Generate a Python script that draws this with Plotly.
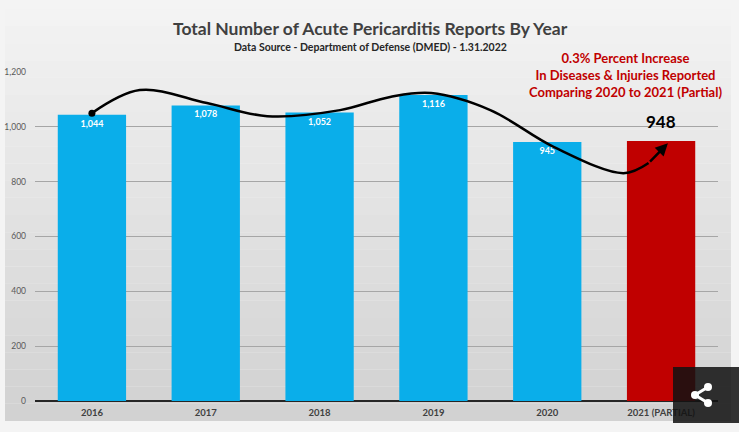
import plotly.graph_objects as go

years = ['2016', '2017', '2018', '2019', '2020', '2021 (PARTIAL)']
reports = [1044, 1078, 1052, 1116, 945, 948]
bar_colors = ['#0aaeea'] * 5 + ['#c00000']
bar_labels = ['1,044', '1,078', '1,052', '1,116', '945', '']

# hand drawn trend curve over the bars (x in bar index units)
curve_x = [0.0, 0.42, 1.01, 1.54, 2.18, 2.62, 2.98, 3.50, 4.06, 4.67, 4.89]
curve_y = [1050, 1134, 1087, 1039, 1061, 1109, 1123, 1061, 926, 831, 868]
arrow_tip = (5.06, 940)

W, H = 739, 432
L, R, T, B = 35, 21, 72, 31


def px(x):
    return (x - L) / (W - L - R)


def py(y):
    return (H - B - y) / (H - T - B)


fig = go.Figure()

fig.add_trace(go.Bar(
    x=list(range(len(years))), y=reports,
    marker=dict(color=bar_colors, line=dict(width=0)),
    width=0.6,
    text=bar_labels, textposition='inside', insidetextanchor='end',
    textfont=dict(family='Lato', size=9, color='white', weight='bold'),
    hoverinfo='skip',
))

fig.add_trace(go.Scatter(
    x=curve_x, y=curve_y, mode='lines', line_shape='spline',
    line=dict(color='black', width=2.5), hoverinfo='skip',
))
fig.add_trace(go.Scatter(
    x=curve_x[:1], y=curve_y[:1], mode='markers',
    marker=dict(color='black', size=7), hoverinfo='skip',
))

fig.add_annotation(
    x=arrow_tip[0], y=arrow_tip[1], ax=curve_x[-1], ay=curve_y[-1],
    xref='x', yref='y', axref='x', ayref='y', text='',
    showarrow=True, arrowhead=2, arrowsize=1, arrowwidth=2.5, arrowcolor='black',
)

fig.add_annotation(
    x=5, y=reports[5], text='<b>948</b>', showarrow=False, yshift=20,
    font=dict(family='Lato', size=17, color='black'),
)


def label(x, y, text, font):
    fig.add_annotation(x=px(x), y=py(y), xref='paper', yref='paper', showarrow=False,
                       xanchor='center', yanchor='middle', align='center',
                       text=text, font=font)


label(625, 75, '<b>0.3% Percent Increase<br>In Diseases &amp; Injuries Reported<br>Comparing 2020 to 2021 (Partial)</b>',
      dict(family='Lato', size=13, color='#c00000'))
label(370, 28, '<b>Total Number of Acute Pericarditis Reports By Year</b>',
      dict(family='Lato', size=17.5, color='#404040'))
label(370, 47, '<b>Data Source - Department of Defense (DMED) - 1.31.2022</b>',
      dict(family='Lato', size=10.5, color='#262626'))

# grey gradient panel behind the chart
shapes = []
n = 24
top, bottom = 9, 421
for i in range(n):
    t = i / (n - 1)
    c = int(243 - t * (243 - 210))
    y0 = top + (bottom - top) * i / n
    y1 = top + (bottom - top) * (i + 1) / n
    shapes.append(dict(type='rect', xref='paper', yref='paper', layer='below',
                       x0=px(5), x1=px(731), y0=py(y1), y1=py(y0),
                       fillcolor=f'rgb({c},{c},{c})', line=dict(width=0)))

# share button overlay
shapes.append(dict(type='rect', xref='paper', yref='paper', layer='above',
                   x0=px(673), x1=px(739), y0=py(423), y1=py(367),
                   fillcolor='rgba(18,18,18,0.86)', line=dict(width=0)))
for (x0, y0), (x1, y1) in [((695, 395), (708, 387)), ((695, 395), (708, 403))]:
    shapes.append(dict(type='line', xref='paper', yref='paper', layer='above',
                       x0=px(x0), x1=px(x1), y0=py(y0), y1=py(y1),
                       line=dict(color='white', width=3)))
for cx, cy in [(708, 387), (695, 395), (708, 403)]:
    shapes.append(dict(type='circle', xref='paper', yref='paper', layer='above',
                       x0=px(cx - 4), x1=px(cx + 4), y0=py(cy + 4), y1=py(cy - 4),
                       fillcolor='white', line=dict(width=0)))

fig.update_layout(
    width=W, height=H,
    margin=dict(l=L, r=R, t=T, b=B),
    paper_bgcolor='#f4f4f4', plot_bgcolor='rgba(0,0,0,0)',
    showlegend=False, shapes=shapes,
    xaxis=dict(
        range=[-0.5, 5.5], tickvals=list(range(len(years))), ticktext=years,
        tickfont=dict(family='Lato', size=9.5, color='#404040', weight='bold'),
        showgrid=False, zeroline=False, ticklabelstandoff=4, automargin=False,
    ),
    yaxis=dict(
        range=[0, 1200], dtick=200, tickformat=',',
        tickfont=dict(family='Lato', size=8.5, color='#595959'),
        gridcolor='#a6a6a6', gridwidth=1,
        zeroline=True, zerolinecolor='#262626', zerolinewidth=1.5,
        ticklabelstandoff=8, automargin=False,
    ),
)

# drop the browser's default page margin so the figure sits at the window corner
fig.write_html('out.html', config={'displayModeBar': False},
               post_script="document.body.style.margin='0';"
                           "document.body.style.overflow='hidden';")
